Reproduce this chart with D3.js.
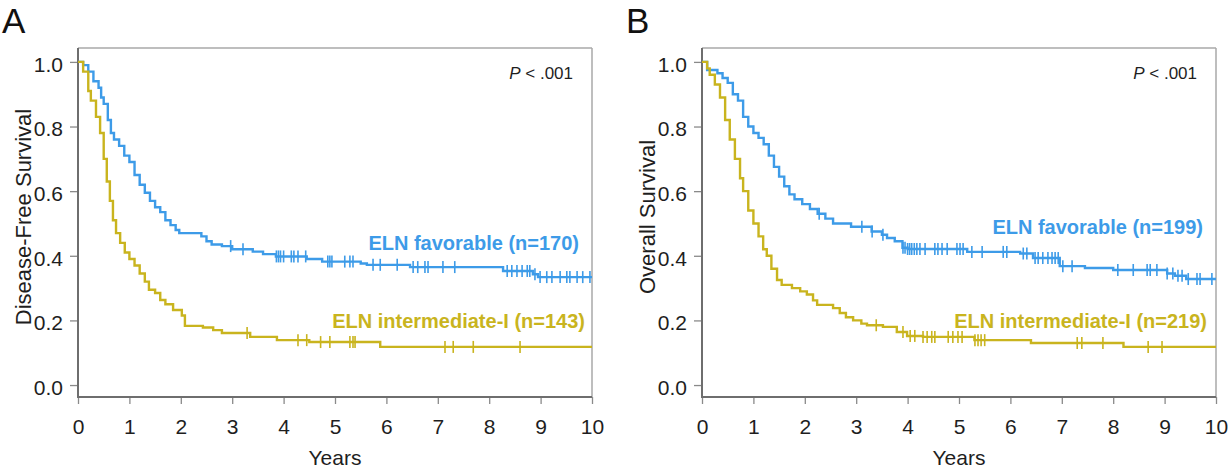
<!DOCTYPE html>
<html>
<head>
<meta charset="utf-8">
<script src="https://cdn.jsdelivr.net/npm/d3@7"></script>
<style>
  body { margin: 0; background: #fff; }
  svg { font-family: "Liberation Sans", Arial, sans-serif; }
</style>
</head>
<body>
<svg id="chart" width="1229" height="470"></svg>
<script>
// axis ticks
var yearTicks = [0, 1, 2, 3, 4, 5, 6, 7, 8, 9, 10];
var survTicks = [0, 0.2, 0.4, 0.6, 0.8, 1.0];

// A: disease-free survival, ELN favorable (step times / survival after step)
var dfsFavTime = [0, 0.1, 0.2, 0.3, 0.4, 0.45, 0.5, 0.58, 0.64, 0.7, 0.8, 0.9, 1.0, 1.1, 1.2, 1.3, 1.4, 1.5, 1.6, 1.7, 1.8, 1.9, 1.97, 2.4, 2.5, 2.6, 2.8, 3.0, 3.4, 3.6, 3.85, 4.45, 4.75, 5.5, 5.62, 6.46, 8.27, 8.85, 8.95];
var dfsFavSurv = [1.0, 0.99, 0.97, 0.94, 0.92, 0.89, 0.87, 0.82, 0.78, 0.76, 0.74, 0.71, 0.69, 0.65, 0.62, 0.595, 0.57, 0.55, 0.535, 0.51, 0.495, 0.48, 0.47, 0.46, 0.445, 0.435, 0.43, 0.42, 0.413, 0.405, 0.398, 0.39, 0.382, 0.376, 0.372, 0.365, 0.353, 0.343, 0.334];
var dfsFavCens = [2.97, 3.21, 3.86, 3.9, 3.94, 4.0, 4.15, 4.2, 4.28, 4.43, 4.86, 4.9, 4.94, 5.19, 5.29, 5.35, 5.74, 5.88, 6.21, 6.52, 6.61, 6.75, 6.81, 7.10, 7.33, 8.35, 8.44, 8.54, 8.64, 8.74, 8.79, 8.89, 8.99, 9.12, 9.22, 9.38, 9.51, 9.57, 9.71, 9.82, 9.96];

// A: disease-free survival, ELN intermediate-I
var dfsIntTime = [0, 0.1, 0.2, 0.25, 0.35, 0.43, 0.5, 0.56, 0.62, 0.68, 0.74, 0.82, 0.91, 1.0, 1.1, 1.2, 1.3, 1.38, 1.5, 1.6, 1.7, 1.85, 2.02, 2.08, 2.43, 2.63, 2.8, 3.35, 3.87, 4.5, 5.88];
var dfsIntSurv = [1.0, 0.97, 0.91, 0.88, 0.83, 0.78, 0.70, 0.63, 0.57, 0.51, 0.47, 0.44, 0.41, 0.39, 0.37, 0.345, 0.32, 0.295, 0.285, 0.263, 0.25, 0.232, 0.215, 0.183, 0.178, 0.17, 0.161, 0.149, 0.139, 0.133, 0.118];
var dfsIntCens = [3.29, 4.28, 4.45, 4.72, 4.9, 5.29, 5.35, 5.39, 7.14, 7.30, 7.69, 8.6];

// B: overall survival, ELN favorable
var osFavTime = [0, 0.1, 0.3, 0.4, 0.5, 0.6, 0.7, 0.8, 0.9, 1.0, 1.1, 1.2, 1.3, 1.4, 1.5, 1.6, 1.7, 1.8, 1.95, 2.1, 2.25, 2.4, 2.55, 2.9, 3.3, 3.5, 3.6, 3.75, 3.9, 4.0, 5.16, 6.19, 6.44, 6.96, 7.45, 8.0, 9.05, 9.2, 9.42];
var osFavSurv = [1.0, 0.975, 0.965, 0.95, 0.935, 0.90, 0.88, 0.83, 0.80, 0.78, 0.765, 0.745, 0.71, 0.675, 0.645, 0.615, 0.59, 0.575, 0.56, 0.545, 0.53, 0.515, 0.50, 0.49, 0.475, 0.465, 0.455, 0.445, 0.425, 0.421, 0.412, 0.407, 0.393, 0.368, 0.362, 0.356, 0.345, 0.338, 0.328];
var osFavCens = [2.28, 3.11, 3.31, 3.52, 3.91, 3.95, 4.0, 4.04, 4.08, 4.13, 4.18, 4.24, 4.34, 4.53, 4.59, 4.67, 4.77, 4.96, 5.02, 5.08, 5.25, 5.45, 5.86, 5.93, 6.25, 6.32, 6.48, 6.54, 6.63, 6.73, 6.81, 6.87, 6.93, 7.02, 7.2, 8.09, 8.39, 8.66, 8.72, 8.85, 9.05, 9.16, 9.26, 9.34, 9.46, 9.63, 9.69, 9.92];

// B: overall survival, ELN intermediate-I
var osIntTime = [0, 0.1, 0.15, 0.25, 0.35, 0.45, 0.54, 0.64, 0.74, 0.8, 0.9, 1.0, 1.1, 1.19, 1.26, 1.35, 1.46, 1.55, 1.75, 1.91, 2.04, 2.16, 2.24, 2.55, 2.68, 2.8, 2.94, 3.1, 3.21, 3.52, 3.79, 3.99, 4.3, 5.3, 6.4, 8.2];
var osIntSurv = [1.0, 0.98, 0.96, 0.93, 0.89, 0.82, 0.76, 0.70, 0.64, 0.60, 0.54, 0.50, 0.46, 0.42, 0.40, 0.36, 0.325, 0.31, 0.30, 0.29, 0.28, 0.262, 0.248, 0.238, 0.223, 0.21, 0.20, 0.19, 0.185, 0.18, 0.164, 0.152, 0.149, 0.139, 0.13, 0.118];
var osIntCens = [3.39, 3.91, 4.05, 4.14, 4.3, 4.38, 4.47, 4.53, 4.79, 4.88, 4.98, 5.06, 5.31, 5.37, 5.43, 5.5, 7.30, 7.39, 7.8, 8.68, 8.95];

var blue = "#3d9be8", gold = "#c9b41e";

var svg = d3.select("#chart");

function drawPanel(p) {
    var x = d3.scaleLinear().domain([0, 10]).range([p.left, p.right]);
    var y = d3.scaleLinear().domain([-0.037, 1.043]).range([397, 48]);
    var g = svg.append("g");

    // box: light top/right, darker left/bottom
    g.append("line").attr("x1", p.left).attr("x2", p.right).attr("y1", 48).attr("y2", 48)
        .attr("stroke", "#a8a8a8").attr("stroke-width", 1.5);
    g.append("line").attr("x1", p.right).attr("x2", p.right).attr("y1", 48).attr("y2", 397)
        .attr("stroke", "#a8a8a8").attr("stroke-width", 1.5);

    var ya = g.append("g").attr("transform", "translate(" + p.left + ",0)")
        .call(d3.axisLeft(y).tickValues(survTicks).tickFormat(d3.format(".1f")).tickSize(8).tickPadding(7));
    var xa = g.append("g").attr("transform", "translate(0,397)")
        .call(d3.axisBottom(x).tickValues(yearTicks).tickSize(7).tickPadding(15));
    [ya, xa].forEach(function(a) {
        a.select(".domain").remove();
        a.selectAll(".tick line").attr("stroke", "#8a8a8a").attr("stroke-width", 1.3);
        a.selectAll(".tick text").attr("fill", "#1e1e1e").style("font-size", "21px");
    });
    ya.selectAll(".tick text").attr("dy", "0.45em");

    g.append("line").attr("x1", p.left).attr("x2", p.left).attr("y1", 48).attr("y2", 398)
        .attr("stroke", "#6e6e6e").attr("stroke-width", 2);
    g.append("line").attr("x1", p.left - 1).attr("x2", p.right).attr("y1", 397).attr("y2", 397)
        .attr("stroke", "#6e6e6e").attr("stroke-width", 2);

    var line = d3.line()
        .x(function(d) { return x(d[0]); })
        .y(function(d) { return y(d[1]); })
        .curve(d3.curveStepAfter);

    p.series.forEach(function(s) {
        var pts = s.time.map(function(t, i) { return [t, s.surv[i]]; });
        pts.push([10, s.surv[s.surv.length - 1]]);
        g.append("path").datum(pts)
            .attr("fill", "none")
            .attr("stroke", s.color)
            .attr("stroke-width", 2.4)
            .attr("d", line);

        var at = function(t) {
            var i = d3.bisectRight(s.time, t) - 1;
            return s.surv[Math.max(i, 0)];
        };
        g.selectAll(null).data(s.cens).enter().append("line")
            .attr("x1", function(d) { return x(d); })
            .attr("x2", function(d) { return x(d); })
            .attr("y1", function(d) { return y(at(d)) - 6; })
            .attr("y2", function(d) { return y(at(d)) + 6; })
            .attr("stroke", s.color)
            .attr("stroke-width", 1.6);

        g.append("text")
            .attr("x", s.lx).attr("y", s.ly)
            .attr("text-anchor", "end")
            .attr("fill", s.color)
            .style("font-size", "20px")
            .style("font-weight", "bold")
            .text(s.label);
    });

    g.append("text")
        .attr("x", p.right - 19).attr("y", 79)
        .attr("text-anchor", "end")
        .attr("fill", "#1e1e1e")
        .style("font-size", "17px")
        .html("<tspan font-style='italic'>P</tspan> &lt; .001");

    g.append("text")
        .attr("x", x(5)).attr("y", 465)
        .attr("text-anchor", "middle")
        .attr("fill", "#1e1e1e")
        .style("font-size", "21px")
        .text("Years");

    g.append("text")
        .attr("transform", "translate(" + (p.left - 47) + ",217) rotate(-90)")
        .attr("text-anchor", "middle")
        .attr("fill", "#1e1e1e")
        .style("font-size", "22px")
        .text(p.ylabel);

    g.append("text")
        .attr("x", p.left - 76).attr("y", 33)
        .attr("fill", "#111")
        .style("font-size", "35px")
        .text(p.tag);
}

drawPanel({
    tag: "A", left: 78, right: 592, ylabel: "Disease-Free Survival",
    series: [
        {time: dfsFavTime, surv: dfsFavSurv, cens: dfsFavCens, color: blue,
         label: "ELN favorable (n=170)", lx: 579, ly: 250},
        {time: dfsIntTime, surv: dfsIntSurv, cens: dfsIntCens, color: gold,
         label: "ELN intermediate-I (n=143)", lx: 585, ly: 328}
    ]
});

drawPanel({
    tag: "B", left: 702, right: 1216, ylabel: "Overall Survival",
    series: [
        {time: osFavTime, surv: osFavSurv, cens: osFavCens, color: blue,
         label: "ELN favorable (n=199)", lx: 1203, ly: 234},
        {time: osIntTime, surv: osIntSurv, cens: osIntCens, color: gold,
         label: "ELN intermediate-I (n=219)", lx: 1207, ly: 328}
    ]
});
</script>
</body>
</html>
